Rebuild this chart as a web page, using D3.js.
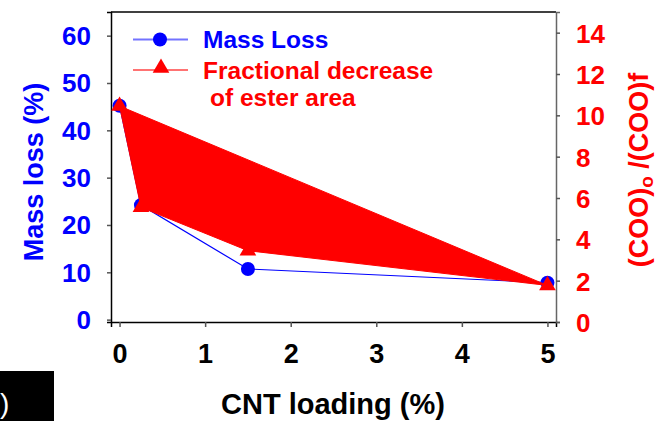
<!DOCTYPE html>
<html>
<head>
<meta charset="utf-8">
<script src="https://cdn.jsdelivr.net/npm/d3@7"></script>
<style>
  html, body { margin: 0; padding: 0; background: #fff; }
  svg { display: block; font-family: "Liberation Sans", Arial, sans-serif; font-weight: bold; }
</style>
</head>
<body>
<svg id="chart" width="658" height="421"></svg>
<script>
// CNT loading (%) and the two measured responses
const cntLoading = [0, 0.25, 1.5, 5];
const massLoss = [45.2, 24.2, 10.7, 7.8];
const esterRatio = [10.45, 5.55, 3.45, 1.77];

const xTicks = [0, 1, 2, 3, 4, 5];
const leftTicks = [0, 10, 20, 30, 40, 50, 60];
const rightTicks = [0, 2, 4, 6, 8, 10, 12, 14];

const svg = d3.select("#chart");
const plot = { left: 111, right: 556, top: 12, bottom: 322 };

const x = d3.scaleLinear().domain([-0.1, 5.1]).range([plot.left, plot.right]);
const yL = d3.scaleLinear().domain([-0.5, 65]).range([plot.bottom, plot.top]);
const yR = d3.scaleLinear().domain([0, 15]).range([plot.bottom, plot.top]);

const blue = "#0000ff", red = "#ff0000";

// frame
svg.append("line").attr("x1", plot.left).attr("x2", plot.right).attr("y1", plot.top).attr("y2", plot.top)
  .attr("stroke", "#000").attr("stroke-width", 1.5);

// axes
const gx = svg.append("g").attr("transform", `translate(0,${plot.bottom})`)
  .call(d3.axisBottom(x).tickValues(xTicks).tickSize(5).tickPadding(17).tickFormat(d3.format("d")));
const gl = svg.append("g").attr("transform", `translate(${plot.left},0)`)
  .call(d3.axisLeft(yL).tickValues(leftTicks).tickSize(4).tickPadding(16).tickFormat(d3.format("d")));
const gr = svg.append("g").attr("transform", `translate(${plot.right},0)`)
  .call(d3.axisRight(yR).tickValues(rightTicks).tickSize(4).tickPadding(16).tickFormat(d3.format("d")));

[gx, gl, gr].forEach(g => {
  g.select(".domain").attr("stroke-width", 1.5);
  g.selectAll(".tick line").attr("stroke", "#555").attr("stroke-width", 1.5);
  g.selectAll("text").attr("font-size", 26).attr("font-weight", "bold")
    .attr("font-family", "'Liberation Sans', Arial, sans-serif");
});
gx.selectAll("text").attr("font-size", 27);
gx.select(".domain").attr("stroke", "#000");
gl.select(".domain").attr("stroke", "#000");
gr.select(".domain").attr("stroke", "#666");
gx.selectAll("text").attr("fill", "#000");
gl.selectAll("text").attr("fill", blue).attr("dy", "0.34em");
gr.selectAll("text").attr("fill", red).attr("dy", "0.36em");

// axis titles
svg.append("text").attr("x", 333).attr("y", 414).attr("text-anchor", "middle")
  .attr("font-size", 29).attr("fill", "#000").text("CNT loading (%)");
svg.append("text").attr("transform", "translate(43,172) rotate(-90)").attr("text-anchor", "middle")
  .attr("font-size", 27).attr("fill", blue).text("Mass loss (%)");
const rt = svg.append("text").attr("transform", "translate(648,170) rotate(-90)").attr("text-anchor", "middle")
  .attr("font-size", 27).attr("fill", red);
rt.append("tspan").text("(COO)");
rt.append("tspan").attr("font-size", 19).attr("dy", 5).text("o");
rt.append("tspan").attr("dy", -5).text(" /(COO)f");

const pts = (ys, s) => cntLoading.map((c, i) => [x(c), s(ys[i])]);

// mass loss series
svg.append("path").attr("d", d3.line()(pts(massLoss, yL)))
  .attr("fill", "none").attr("stroke", blue).attr("stroke-width", 1.2);
svg.selectAll(".dot").data(pts(massLoss, yL)).join("circle")
  .attr("cx", d => d[0]).attr("cy", d => d[1]).attr("r", 7).attr("fill", blue);

// ester area ratio series, drawn as a closed filled trace
svg.append("path").attr("d", d3.line()(pts(esterRatio, yR)) + "Z")
  .attr("fill", red).attr("stroke", red).attr("stroke-width", 1);
const tri = d3.symbol().type(d3.symbolTriangle).size(120);
svg.selectAll(".tri").data(pts(esterRatio, yR)).join("path")
  .attr("transform", d => `translate(${d[0]},${d[1]})`).attr("d", tri()).attr("fill", red);

// legend
const lg = svg.append("g");
lg.append("line").attr("x1", 133).attr("x2", 188).attr("y1", 39.5).attr("y2", 39.5)
  .attr("stroke", blue).attr("stroke-opacity", 0.55).attr("stroke-width", 2);
lg.append("circle").attr("cx", 160).attr("cy", 39.5).attr("r", 7).attr("fill", blue);
lg.append("text").attr("x", 203).attr("y", 48).attr("font-size", 24.5).attr("fill", blue).text("Mass Loss");
lg.append("line").attr("x1", 133).attr("x2", 188).attr("y1", 70).attr("y2", 70)
  .attr("stroke", red).attr("stroke-opacity", 0.55).attr("stroke-width", 2);
lg.append("path").attr("transform", "translate(161,68)").attr("d", tri()).attr("fill", red);
lg.append("text").attr("x", 203).attr("y", 79).attr("font-size", 24.5).attr("fill", red).text("Fractional decrease");
lg.append("text").attr("x", 210).attr("y", 106).attr("font-size", 24.5).attr("fill", red).text("of ester area");

// panel label box
svg.append("rect").attr("x", 0).attr("y", 371).attr("width", 54).attr("height", 50).attr("fill", "#000");
svg.append("text").attr("x", 0).attr("y", 413).attr("font-size", 28).attr("font-weight", "normal")
  .attr("fill", "#fff").text(")");
</script>
</body>
</html>
